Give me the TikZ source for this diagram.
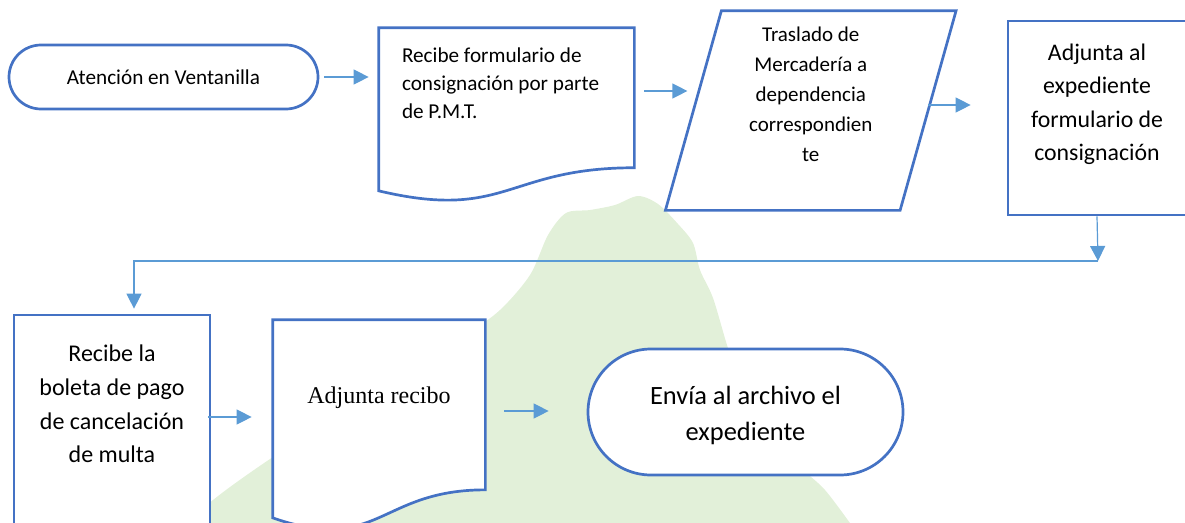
\documentclass[tikz,border=0pt]{standalone}
\usepackage{fontspec}
\setmainfont{Carlito}
\newfontfamily\timesfont{Liberation Serif}
\usepackage{tikz}
\usetikzlibrary{arrows.meta,calc,backgrounds}
\definecolor{boxblue}{RGB}{68,114,196}
\definecolor{arrowblue}{RGB}{91,155,213}
\definecolor{blobgreen}{RGB}{226,240,217}
\tikzset{%
  >={Triangle[width=15pt,length=15pt]},
  % Specifications for style of nodes:
       base/.style = {rectangle, draw=boxblue, line width=2.7pt, fill=white,
                      inner sep=0pt, align=center,
                      font=\fontsize{21.2}{28}\selectfont},
   terminal/.style = {base, rounded corners=32pt},
    process/.style = {base},
   document/.style = {base, draw=none, fill=none},
      inout/.style = {base, draw=none, fill=none},
    outline/.style = {draw=boxblue, line width=2.7pt, fill=white},
       flow/.style = {->, draw=arrowblue, line width=1.2pt},
}
% document symbol with wavy bottom, drawn round a node
\newcommand{\docoutline}[1]{%
  \draw[outline] (#1.north west) -- (#1.north east)
    -- ($(#1.north east)!0.802!(#1.south east)$)
    .. controls ($(#1.north)!0.802!(#1.south)$) and ($(#1.north)!1.1075!(#1.south)$)
    .. ($(#1.north west)!0.934!(#1.south west)$) -- cycle;}

\begin{document}
\begin{tikzpicture}[x=1pt, y=-1pt]
  \useasboundingbox (0,0) rectangle (1185,522);

  \node (start)      [terminal, minimum width=309pt, minimum height=64pt] at (163.5,77) {Atención en Ventanilla};
  \node (recibe)     [document, minimum width=253pt, minimum height=172pt] at (506.5,115)
        {\parbox[c][134pt][t]{209pt}{\raggedright Recibe formulario de\\consignación por parte\\de P.M.T.}};
  \node (traslado)   [inout, minimum width=232pt, minimum height=197pt, font=\fontsize{21}{30}\selectfont] at (810.75,110.5)
        {\parbox[c][167pt][t]{232pt}{\centering Traslado de\\Mercadería a\\dependencia\\correspondien\\te}};
  \node (adjunta)    [process, minimum width=178pt, minimum height=194pt, font=\fontsize{23.8}{33.3}\selectfont] at (1097,118)
        {\parbox[c][148pt][t]{178pt}{\centering Adjunta al\\expediente\\formulario de\\consignación}};
  \node (boleta)     [process, minimum width=196pt, minimum height=230pt, font=\fontsize{24}{33.7}\selectfont] at (112,430)
        {\parbox[c][170pt][t]{196pt}{\centering Recibe la\\boleta de pago\\de cancelación\\de multa}};
  \node (adjuntarec) [document, minimum width=210pt, minimum height=209.5pt, font=\timesfont\fontsize{24}{29}\selectfont] at (379,425.75)
        {\parbox[c][78pt][t]{210pt}{\centering Adjunta recibo}};
  \node (envia)      [terminal, rounded corners=63pt, minimum width=315pt, minimum height=126pt,
                      font=\fontsize{26.4}{36}\selectfont] at (745.5,412) {\rule{0pt}{26pt}Envía al archivo el\\expediente};

  \begin{pgfonlayer}{background}
    % green shape behind the chart
    \fill[blobgreen] plot[smooth] coordinates {(170,540) (213,500) (273,457) (380,388) (465,335) (500,310)
        (530,275) (548,235) (566,213) (590,210) (615,205) (638,196) (658,204) (678,224) (693,243)
        (700,270) (713,298) (727,345) (745,400) (790,458) (825,490) (862,540)} -- cycle;
    \docoutline{recibe}
    \docoutline{adjuntarec}
    \draw[outline] ($(traslado.north west)+(28,0)$) -- ($(traslado.north east)+(28,0)$)
      -- ($(traslado.south east)+(-28,0)$) -- ($(traslado.south west)+(-28,0)$) -- cycle;
  \end{pgfonlayer}

  \coordinate (turn) at (1098,261);
  \draw[flow] ($(start.east)+(5,0)$) -- ($(start.east -| recibe.west)+(-10,0)$);
  \draw[flow] ($(recibe.east)+(10,-24)$) -- ($(recibe.east -| traslado.west)+(-6,-24)$);
  \draw[flow] ($(traslado.east)+(0,-5.5)$) -- ($(traslado.east -| adjunta.west)+(-36,-5.5)$);
  \draw[flow] (adjunta.south) -- (turn);
  \draw[flow] (turn) -| ($(boleta.north)+(22,-5)$);
  \draw[flow] ($(boleta.east)+(-3,-13)$) -- ($(boleta.east -| adjuntarec.west)+(-21,-13)$);
  \draw[flow] ($(envia.west -| adjuntarec.east)+(19,-1)$) -- ($(envia.west)+(-38,-1)$);
\end{tikzpicture}
\end{document}
